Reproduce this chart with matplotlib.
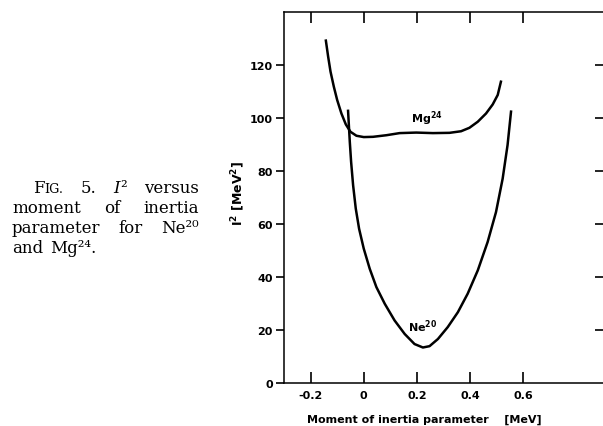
import matplotlib

matplotlib.use("Agg")
import matplotlib.pyplot as plt
from matplotlib.transforms import IdentityTransform

# curves
mg_x = [-0.1425, -0.134, -0.125, -0.1125, -0.1, -0.084, -0.0675, -0.05, -0.0275, 0.0,
        0.035, 0.085, 0.135, 0.1975, 0.26, 0.3225, 0.366, 0.3975, 0.429, 0.46,
        0.485, 0.504, 0.516]
mg_y = [129.2, 123.2, 117.5, 111.8, 106.8, 101.7, 97.6, 94.8, 93.3, 92.8,
        92.9, 93.5, 94.3, 94.5, 94.3, 94.4, 95.0, 96.3, 98.6, 101.7,
        105.1, 108.7, 113.7]
ne_x = [-0.059, -0.056, -0.0525, -0.0475, -0.04, -0.03, -0.0175, 0.0, 0.0225, 0.0475,
        0.079, 0.116, 0.154, 0.191, 0.2225, 0.2475, 0.279, 0.316, 0.354, 0.391,
        0.429, 0.466, 0.4975, 0.5225, 0.541, 0.554]
ne_y = [102.7, 97.3, 91.0, 83.4, 74.6, 65.8, 58.2, 50.7, 43.1, 36.2,
        29.9, 23.6, 18.5, 14.7, 13.4, 13.9, 16.6, 21.1, 26.7, 33.7,
        42.5, 53.2, 64.5, 77.1, 89.8, 102.4]

x_ticks = [-0.2, 0.0, 0.2, 0.4, 0.6]
x_tick_labels = ["-0.2", "0", "0.2", "0.4", "0.6"]
y_ticks = [0, 20, 40, 60, 80, 100, 120]
right_ticks = [20, 40, 60, 80, 100, 120]

caption_lines = [
    [[("F", "rm"), ("IG.", "sc")], [("5.", "rm")], [("I", "it"), ("²", "rm")], [("versus", "rm")]],
    [[("moment", "rm")], [("of", "rm")], [("inertia", "rm")]],
    [[("parameter", "rm")], [("for", "rm")], [("Ne²⁰", "rm")]],
    [[("and", "rm")], [("Mg²⁴.", "rm")]],
]

W, H = 603, 427
SANS = dict(family="DejaVu Sans", weight="bold", size=8)
STYLES = {
    "rm": dict(family="DejaVu Serif", size=12),
    "sc": dict(family="DejaVu Serif", size=9.2),
    "it": dict(family="DejaVu Serif", size=12, style="italic"),
}

plt.rcParams["mathtext.fontset"] = "dejavusans"

fig = plt.figure(figsize=(W / 100, H / 100), dpi=100)
ax = fig.add_axes([284 / W, 43 / H, 319 / W, 371 / H])

ax.plot(mg_x, mg_y, color="black", lw=1.8)
ax.plot(ne_x, ne_y, color="black", lw=1.8)
ax.text(0.179, 98.8, r"Mg$^{\mathbf{24}}$", va="baseline", ha="left", **SANS)
ax.text(0.166, 19.8, r"Ne$^{\mathbf{20}}$", va="baseline", ha="left", **SANS)

ax.set_xlim(-0.3, 0.9)
ax.set_ylim(0, 140)
ax.set_xticks(x_ticks, labels=x_tick_labels)
ax.set_yticks(y_ticks)
for lab in ax.get_xticklabels() + ax.get_yticklabels():
    lab.set_fontfamily(SANS["family"])
    lab.set_fontweight(SANS["weight"])
    lab.set_fontsize(SANS["size"])
ax.tick_params(axis="x", direction="in", top=True, length=8, width=1.2, pad=5)
ax.tick_params(axis="y", direction="out", length=6, width=1.2, pad=2)
ax.spines["right"].set_visible(False)
for side in ["left", "top", "bottom"]:
    ax.spines[side].set_linewidth(1.1)

ax2 = ax.twinx()
ax2.set_ylim(0, 140)
ax2.set_yticks(right_ticks)
ax2.tick_params(axis="y", direction="in", length=6, width=1.2, labelright=False)
for side in ax2.spines:
    ax2.spines[side].set_visible(False)

ax.set_ylabel(r"I$^{\mathbf{2}}$ [MeV$^{\mathbf{2}}$]", family="DejaVu Sans",
              weight="bold", size=9)
ax.yaxis.set_label_coords((247 - 284) / 319, (384 - 193) / 371)
fig.text(424 / W, 1 - 420 / H, "Moment of inertia parameter    [MeV]",
         ha="center", va="center", **SANS)

# justified caption on the left
renderer = fig.canvas.get_renderer()
caption_rows = [(193, 33, 199, True), (213, 12, 199, True),
                (233, 12, 199, True), (253, 12, 199, False)]
for words, (y_top, x0, x1, justify) in zip(caption_lines, caption_rows):
    items = []
    for word in words:
        segs = []
        for s, st in word:
            t = fig.text(0, 0, s, transform=IdentityTransform(), ha="left",
                         va="baseline", **STYLES[st])
            segs.append((t, t.get_window_extent(renderer).width))
        items.append((segs, sum(w for _, w in segs)))
    total = sum(w for _, w in items)
    gap = (x1 - x0 - total) / (len(items) - 1) if justify else 7
    x = x0
    for segs, w in items:
        xx = x
        for t, sw in segs:
            t.set_position((xx, H - y_top))
            xx += sw
        x += w + gap

fig.savefig("out.png", dpi=100)
